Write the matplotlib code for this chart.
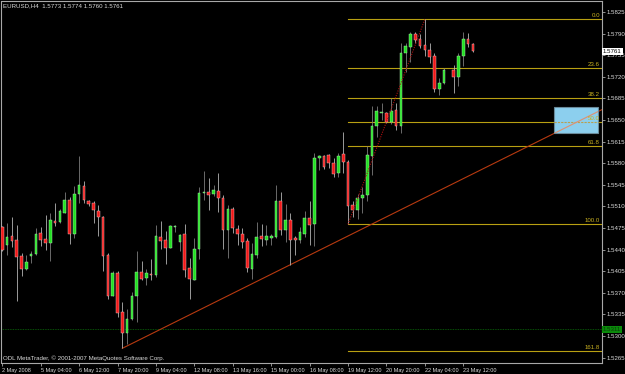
import numpy as np
import matplotlib
matplotlib.use('Agg')
import matplotlib.pyplot as plt
from matplotlib import font_manager
from matplotlib.patches import Rectangle

title = 'EURUSD,H4  1.5773 1.5774 1.5760 1.5761'
copyright_text = 'ODL MetaTrader, \u00a9 2001-2007 MetaQuotes Software Corp.'

# H4 candles, bar index 0..98 (bar 93 shows nothing on the chart)
opens = [1.5476, 1.5447, 1.5462, 1.5456, 1.5430, 1.5408, 1.5430, 1.5433, 1.5467, 1.5457,
         1.5450, 1.5486, 1.5484, 1.5500, 1.5520, 1.5466, 1.5530, 1.5543, 1.5518, 1.5516,
         1.5503, 1.5493, 1.5432, 1.5365, 1.5402, 1.5339, 1.5305, 1.5328, 1.5364, 1.5404,
         1.5394, 1.5401, 1.5399, 1.5461, 1.5456, 1.5443, 1.5477, 1.5452, 1.5465, 1.5410,
         1.5391, 1.5441, 1.5532, 1.5534, 1.5530, 1.5535, 1.5523, 1.5472, 1.5506, 1.5474,
         1.5466, 1.5454, 1.5408, 1.5431, 1.5462, 1.5456, 1.5459, 1.5460, 1.5518, 1.5472,
         1.5488, 1.5459, 1.5456, 1.5466, 1.5491, 1.5481, 1.5588, 1.5591, 1.5593, 1.5581,
         1.5564, 1.5595, 1.5582, 1.5512, 1.5504, 1.5524, 1.5528, 1.5591, 1.5640, 1.5662,
         1.5661, 1.5646, 1.5666, 1.5640, 1.5758, 1.5769, 1.5789, 1.5781, 1.5772, 1.5763,
         1.5753, 1.5701, 1.5710, np.nan, 1.5731, 1.5719, 1.5754, 1.5781, 1.5773]
highs = [1.5478, 1.5483, 1.5492, 1.5480, 1.5434, 1.5431, 1.5437, 1.5475, 1.5476, 1.5496,
         1.5499, 1.5516, 1.5506, 1.5533, 1.5526, 1.5543, 1.5592, 1.5551, 1.5520, 1.5518,
         1.5512, 1.5494, 1.5434, 1.5405, 1.5405, 1.5355, 1.5344, 1.5372, 1.5438, 1.5422,
         1.5408, 1.5425, 1.5480, 1.5486, 1.5470, 1.5480, 1.5480, 1.5466, 1.5481, 1.5427,
         1.5459, 1.5541, 1.5567, 1.5556, 1.5545, 1.5564, 1.5528, 1.5512, 1.5509, 1.5480,
         1.5475, 1.5458, 1.5450, 1.5484, 1.5481, 1.5480, 1.5465, 1.5544, 1.5533, 1.5514,
         1.5499, 1.5462, 1.5477, 1.5503, 1.5519, 1.5596, 1.5593, 1.5593, 1.5595, 1.5588,
         1.5597, 1.5631, 1.5585, 1.5518, 1.5530, 1.5541, 1.5608, 1.5672, 1.5672, 1.5678,
         1.5663, 1.5686, 1.5677, 1.5774, 1.5774, 1.5793, 1.5793, 1.5790, 1.5813, 1.5774,
         1.5758, 1.5718, 1.5734, np.nan, 1.5739, 1.5758, 1.5793, 1.5791, 1.5774]
lows = [1.5437, 1.5431, 1.5444, 1.5356, 1.5397, 1.5407, 1.5419, 1.5432, 1.5446, 1.5439,
        1.5422, 1.5478, 1.5483, 1.5499, 1.5449, 1.5458, 1.5515, 1.5515, 1.5511, 1.5483,
        1.5462, 1.5406, 1.5360, 1.5364, 1.5331, 1.5280, 1.5287, 1.5326, 1.5323, 1.5390,
        1.5383, 1.5390, 1.5396, 1.5441, 1.5417, 1.5442, 1.5469, 1.5437, 1.5396, 1.5360,
        1.5390, 1.5425, 1.5521, 1.5504, 1.5527, 1.5501, 1.5441, 1.5427, 1.5467, 1.5447,
        1.5443, 1.5403, 1.5392, 1.5426, 1.5445, 1.5447, 1.5447, 1.5458, 1.5463, 1.5453,
        1.5415, 1.5431, 1.5450, 1.5461, 1.5447, 1.5445, 1.5569, 1.5570, 1.5572, 1.5557,
        1.5557, 1.5564, 1.5481, 1.5493, 1.5489, 1.5500, 1.5518, 1.5561, 1.5622, 1.5650,
        1.5645, 1.5644, 1.5634, 1.5629, 1.5728, 1.5744, 1.5774, 1.5766, 1.5753, 1.5742,
        1.5696, 1.5690, 1.5708, np.nan, 1.5694, 1.5705, 1.5738, 1.5768, 1.5760]
closes = [1.5440, 1.5461, 1.5454, 1.5428, 1.5408, 1.5420, 1.5433, 1.5466, 1.5456, 1.5451,
          1.5488, 1.5483, 1.5503, 1.5520, 1.5466, 1.5530, 1.5544, 1.5520, 1.5514, 1.5504,
          1.5493, 1.5430, 1.5364, 1.5402, 1.5338, 1.5305, 1.5328, 1.5365, 1.5403, 1.5393,
          1.5402, 1.5398, 1.5462, 1.5454, 1.5442, 1.5479, 1.5479, 1.5464, 1.5407, 1.5392,
          1.5441, 1.5532, 1.5533, 1.5529, 1.5536, 1.5524, 1.5471, 1.5505, 1.5475, 1.5466,
          1.5452, 1.5410, 1.5433, 1.5461, 1.5457, 1.5462, 1.5462, 1.5519, 1.5472, 1.5488,
          1.5456, 1.5455, 1.5469, 1.5491, 1.5480, 1.5588, 1.5592, 1.5573, 1.5580, 1.5562,
          1.5592, 1.5582, 1.5511, 1.5504, 1.5524, 1.5529, 1.5593, 1.5640, 1.5665, 1.5663,
          1.5646, 1.5665, 1.5640, 1.5758, 1.5770, 1.5789, 1.5780, 1.5770, 1.5763, 1.5752,
          1.5700, 1.5710, 1.5731, np.nan, 1.5720, 1.5754, 1.5782, 1.5773, 1.5761]

date_tick_bars = [0, 8, 16, 24, 32, 40, 48, 56, 64, 72, 80, 88, 96]
date_tick_labels = ['2 May 2008', '5 May 04:00', '6 May 12:00', '7 May 20:00', '9 May 04:00',
                    '12 May 08:00', '13 May 16:00', '15 May 00:00', '16 May 08:00',
                    '19 May 12:00', '20 May 20:00', '22 May 04:00', '23 May 12:00']
price_ticks = [1.5265, 1.5300, 1.5335, 1.5370, 1.5405, 1.5440, 1.5475, 1.5510, 1.5545,
               1.5580, 1.5615, 1.5650, 1.5685, 1.5720, 1.5755, 1.5790, 1.5825]

# fibonacci retracement anchors (bar, price)
fib_low = (72, 1.5481)
fib_high = (88, 1.5813)
fib_ratios = [0.0, 23.6, 38.2, 50.0, 61.8, 100.0, 161.8]

# trend line anchors (bar, price)
trend_a = (25, 1.5280)
trend_b = (72, 1.5462)

# blue rectangle (bar from, bar to, price low, price high)
box = (115, 124, 1.5629, 1.5671)

hline_price = 1.5311
last_price = 1.5761

names = {f.name for f in font_manager.fontManager.ttflist}
if 'Liberation Sans Narrow' in names:
    plt.rcParams['font.family'] = ['Liberation Sans Narrow', 'DejaVu Sans']
    fs, fs_x = 4.9, 4.6
else:
    plt.rcParams['font.family'] = ['Liberation Sans', 'DejaVu Sans']
    fs, fs_x = 4.4, 4.0

bg = '#000000'
axis_col = '#a8a8a8'
text_col = '#dcdcdc'
fib_col = '#b8a012'

fig = plt.figure(figsize=(6.25, 3.74), dpi=100, facecolor=bg)
ax = fig.add_axes([1.5 / 625, 1 - 363 / 374, 600.5 / 625, 362 / 374], facecolor=bg)
xmax = 124.9
ax.set_xlim(-0.17, xmax)
ax.set_ylim(1.52562, 1.58428)

o = np.array(opens)
h = np.array(highs)
l = np.array(lows)
c = np.array(closes)
idx = np.arange(len(o))
ok = ~np.isnan(o)
up = ok & (c >= o)
dn = ok & (c < o)

ax.vlines(idx[up], l[up], h[up], color='#7c7c7c', lw=0.6, zorder=3)
ax.vlines(idx[dn], l[dn], h[dn], color='#b4b4b4', lw=0.6, zorder=3)
body_lo = np.minimum(o, c)
body_h = np.maximum(np.abs(c - o), 0.00007)
ax.bar(idx[up], body_h[up], bottom=body_lo[up], width=0.55, color='#22e022',
       edgecolor='#b8f0b8', linewidth=0.3, zorder=4)
ax.bar(idx[dn], body_h[dn], bottom=body_lo[dn], width=0.55, color='#f01818',
       edgecolor='#f0c8c8', linewidth=0.3, zorder=4)

# horizontal dotted level
ax.axhline(hline_price, color='#0a6a0a', lw=0.6, ls=(0, (1, 1)), zorder=2)

# fibonacci
rng = fib_high[1] - fib_low[1]
for r in fib_ratios:
    lvl = fib_high[1] - rng * r / 100.0
    ax.plot([fib_low[0], xmax], [lvl, lvl], color=fib_col, lw=0.8, zorder=2)
    ax.text(xmax - 0.4, lvl + 0.00015, '%.1f' % r, color='#c8b020', fontsize=fs,
            ha='right', va='bottom', zorder=6)
ax.plot([fib_low[0], fib_high[0]], [fib_low[1], fib_high[1]], color='#b01010',
        lw=0.8, ls=(0, (1, 1.2)), zorder=5)

# trend line (ray)
slope = (trend_b[1] - trend_a[1]) / (trend_b[0] - trend_a[0])
tx = np.array([trend_a[0], xmax])
ty = trend_a[1] + slope * (tx - trend_a[0])
ax.plot(tx, ty, color='#b83a10', lw=0.8, zorder=2)

# blue box
rect = Rectangle((box[0], box[2]), box[1] - box[0], box[3] - box[2],
                 facecolor='#8ccfee', edgecolor='#6a8a9a', lw=0.8, zorder=3)
ax.add_patch(rect)
mid = fib_high[1] - rng * 0.5
seg, = ax.plot([box[0], box[1]], [mid, mid], color='#b8a050', lw=0.8,
               ls=(0, (2, 1)), zorder=4)
tl, = ax.plot(tx, ty, color='#e09070', lw=0.8, zorder=4)
tl.set_clip_path(rect)

# axes styling
for s in ax.spines.values():
    s.set_color(axis_col)
    s.set_linewidth(0.8)
ax.yaxis.tick_right()
ax.set_yticks(price_ticks)
ax.set_yticklabels(['%.4f' % p for p in price_ticks])
ax.set_xticks(date_tick_bars)
ax.set_xticklabels(date_tick_labels, ha='left')
ax.tick_params(axis='both', colors=axis_col, labelcolor=text_col, labelsize=fs,
               length=2, width=0.6, pad=1.5)
ax.tick_params(axis='x', labelsize=fs_x)

# price labels on the right axis
ax.text(1.0015, last_price, '%.4f' % last_price, transform=ax.get_yaxis_transform(),
        fontsize=fs, color='#000000', va='center', ha='left', zorder=10, clip_on=False,
        bbox=dict(boxstyle='square,pad=0.15', fc='#ffffff', ec='#ffffff', lw=0))
ax.text(1.0015, hline_price, '%.4f' % hline_price, transform=ax.get_yaxis_transform(),
        fontsize=fs, color='#0a3a0a', va='center', ha='left', zorder=10, clip_on=False,
        bbox=dict(boxstyle='square,pad=0.15', fc='#0a8a0a', ec='#0a8a0a', lw=0))

ax.text(0.0025, 0.986, title, transform=ax.transAxes, color=text_col, fontsize=fs,
        ha='left', va='center')
ax.text(0.0025, 0.012, copyright_text, transform=ax.transAxes, color=text_col,
        fontsize=fs, ha='left', va='center')

fig.savefig('out.png', dpi=100, facecolor=bg)
